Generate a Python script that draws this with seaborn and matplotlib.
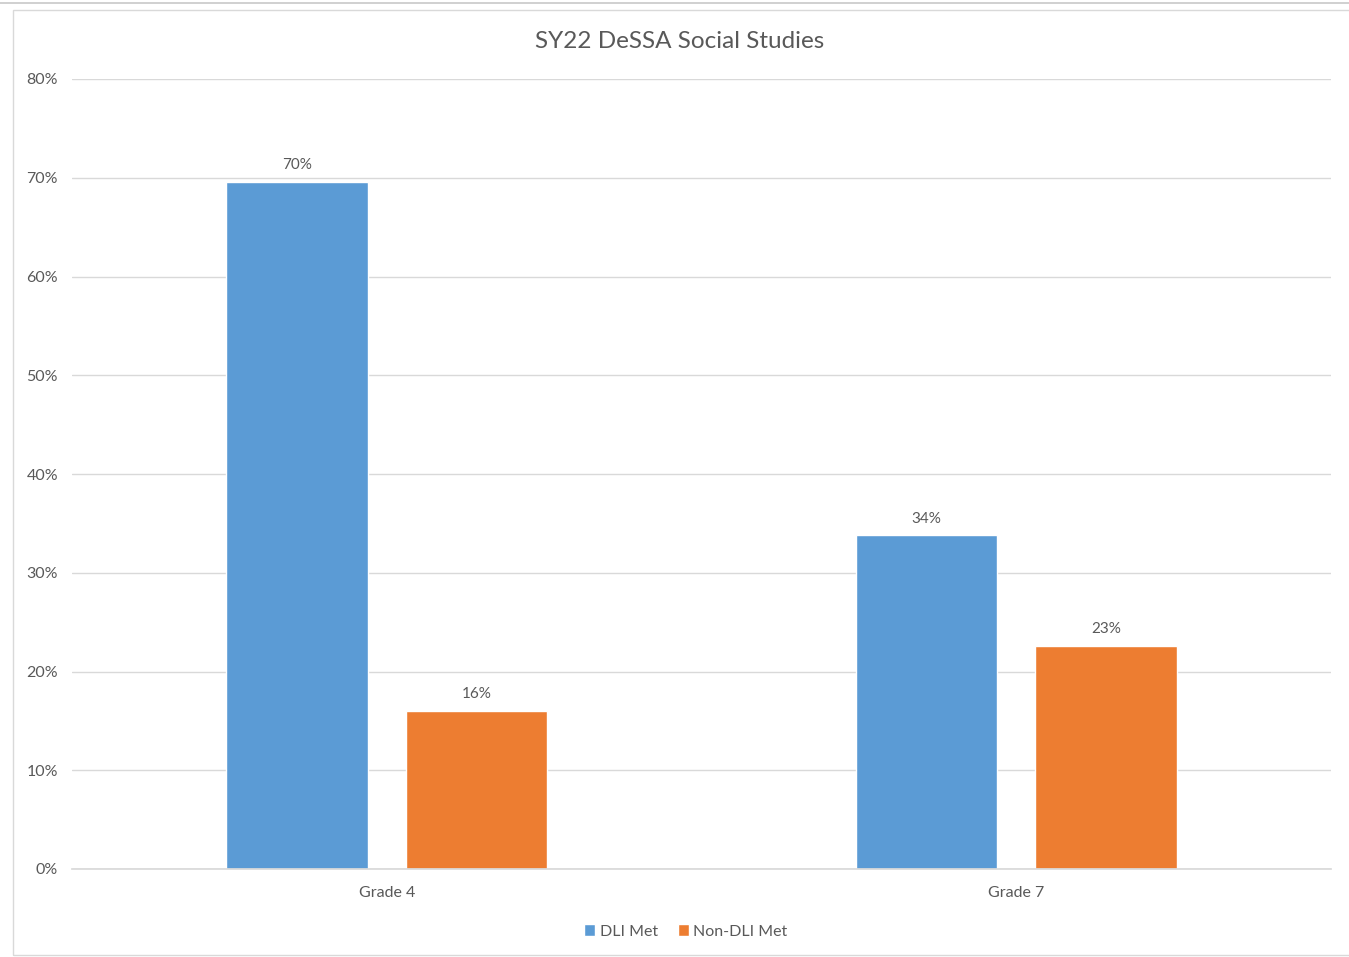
import matplotlib
matplotlib.use("Agg")
import matplotlib.pyplot as plt
import seaborn as sns
import pandas as pd
from matplotlib.ticker import FuncFormatter
from matplotlib.patches import Rectangle
from matplotlib.lines import Line2D

grades = ["Grade 4", "Grade 7"]
series = ["DLI Met", "Non-DLI Met"]
dli_met = [69.6, 33.8]
non_dli_met = [16.0, 22.6]
y_ticks = [0, 10, 20, 30, 40, 50, 60, 70, 80]

df = pd.DataFrame({
    "grade": grades * 2,
    "series": [series[0]] * 2 + [series[1]] * 2,
    "value": dli_met + non_dli_met,
})

sns.set_theme(style="white")
plt.rcParams["font.family"] = ["Lato", "DejaVu Sans"]
txt = "#595959"

fig = plt.figure(figsize=(13.49, 9.57), dpi=100)
W, H = 1349, 957
ax = fig.add_axes([72 / W, 1 - 869 / H, (1331 - 72) / W, (869 - 79) / H])

sns.barplot(data=df, x="grade", y="value", hue="series", order=grades, hue_order=series,
            palette=["#5B9BD5", "#ED7D31"], width=0.569, gap=0.21, ax=ax,
            saturation=1, legend=True, errorbar=None)

ax.set_ylim(0, 80)
ax.set_xlim(-0.5, 1.5)
ax.set_yticks(y_ticks)
ax.yaxis.set_major_formatter(FuncFormatter(lambda v, p: f"{v:.0f}%"))
ax.yaxis.grid(True, color="#D9D9D9", linewidth=1)
ax.set_axisbelow(True)
for s in ["top", "right", "left"]:
    ax.spines[s].set_visible(False)
ax.spines["bottom"].set_color("#D9D9D9")
ax.tick_params(axis="both", length=0, labelsize=11.5, colors=txt)
ax.tick_params(axis="y", pad=10)
ax.tick_params(axis="x", pad=12)
ax.set_xlabel("")
ax.set_ylabel("")

for c in ax.containers:
    ax.bar_label(c, fmt="%.0f%%", padding=7, fontsize=11, color=txt)

ax.set_title("SY22 DeSSA Social Studies", fontsize=17.5, color=txt, pad=22,
             x=(680 - 72) / 1259)

leg = ax.legend(loc="upper center", bbox_to_anchor=((686 - 72) / 1259, -0.052), ncol=2,
                frameon=False, fontsize=11.5, handlelength=0.7, handleheight=0.7,
                handletextpad=0.3, columnspacing=1.2)
for t in leg.get_texts():
    t.set_color(txt)

# frame decorations
fig.add_artist(Line2D([0, 1], [1 - 3 / H, 1 - 3 / H], color="#C8C8C8", linewidth=1.2))
fig.add_artist(Rectangle((13 / W, 1 - 955 / H), 1.2, (955 - 10) / H, fill=False,
                         edgecolor="#D9D9D9", linewidth=1))

fig.savefig("out.png", dpi=100)
